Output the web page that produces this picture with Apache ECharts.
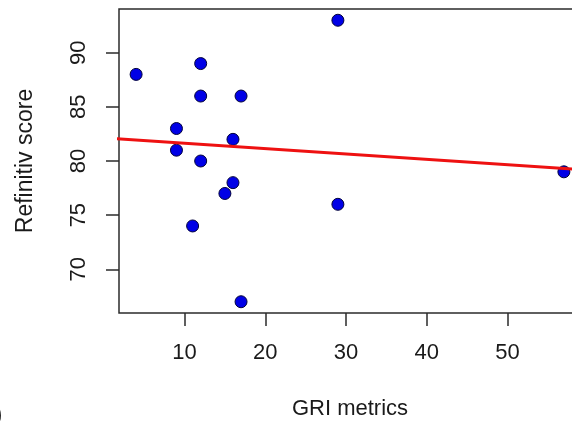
<!DOCTYPE html>
<html lang="en">
<head>
    <meta charset="UTF-8">
    <script src="https://cdn.jsdelivr.net/npm/echarts@6.0.0/dist/echarts.min.js"></script>
    <title>Refinitiv score vs GRI metrics</title>
</head>
<style>
    body{
        width: 100%;
        height: 100%;
        margin: 0;
        padding: 0;
        background: #fff;
    }
</style>
<body>
<div id="scatter" style="width: 572px;height:423px;"></div>
</body>
<script>
    // values
    var griMetrics = [4, 9, 9, 11, 12, 12, 12, 15, 16, 16, 17, 17, 29, 29, 57];
    var refinitivScore = [88, 83, 81, 74, 89, 86, 80, 77, 82, 78, 86, 67, 93, 76, 79];
    // fitted line, read at its two ends
    var fitX = [0, 60];
    var fitY = [82.14, 79.17];
    var xTicks = [10, 20, 30, 40, 50];
    var yTicks = [70, 75, 80, 85, 90];

    var points = [];
    for (var i = 0; i < griMetrics.length; i++) {
        points.push([griMetrics[i], refinitivScore[i]]);
    }
    var fitLine = [];
    for (var j = 0; j < fitX.length; j++) {
        fitLine.push([fitX[j], fitY[j]]);
    }

    var font = 'Liberation Sans, Arial, sans-serif';
    var chart = echarts.init(document.getElementById('scatter'));
    var option = {
        animation: false,
        grid: {
            left: 119,
            top: 9,
            width: 462,
            height: 304,
            outerBoundsMode: 'none',
            containLabel: false,
            show: true,
            borderColor: '#2b2b2b',
            borderWidth: 1.5,
            backgroundColor: 'transparent'
        },
        xAxis: {
            type: 'value',
            min: 1.88,
            max: 59.12,
            name: 'GRI metrics',
            nameLocation: 'middle',
            nameGap: 85,
            nameTextStyle: {fontFamily: font, fontSize: 22, color: '#1a1a1a'},
            axisLine: {show: false},
            splitLine: {show: false},
            axisTick: {show: true, length: 13, customValues: xTicks,
                lineStyle: {color: '#2b2b2b', width: 1.5}},
            axisLabel: {customValues: xTicks, margin: 29, fontFamily: font,
                fontSize: 22, color: '#1a1a1a'}
        },
        yAxis: {
            type: 'value',
            min: 65.96,
            max: 94.04,
            name: 'Refinitiv score',
            nameLocation: 'middle',
            nameRotate: 90,
            nameGap: 82,
            nameTextStyle: {fontFamily: font, fontSize: 23, color: '#1a1a1a'},
            axisLine: {show: false},
            splitLine: {show: false},
            axisTick: {show: true, length: 13, customValues: yTicks,
                lineStyle: {color: '#2b2b2b', width: 1.5}},
            axisLabel: {customValues: yTicks, rotate: 90, margin: 29,
                fontFamily: font, fontSize: 22, color: '#1a1a1a'}
        },
        graphic: [{
            type: 'text',
            left: -5,
            top: 404,
            style: {text: ')', fontFamily: font, fontSize: 22, fill: '#1a1a1a'}
        }],
        series: [{
            type: 'scatter',
            data: points,
            symbolSize: 12,
            itemStyle: {color: '#0000e6', borderColor: '#00003a', borderWidth: 1, opacity: 1},
            z: 3
        }, {
            type: 'line',
            data: fitLine,
            symbol: 'none',
            clip: true,
            lineStyle: {color: '#ee1111', width: 3},
            z: 4
        }]
    };
    chart.setOption(option);
</script>
</html>
